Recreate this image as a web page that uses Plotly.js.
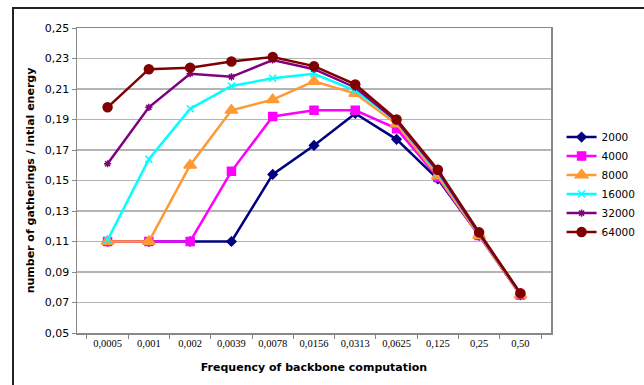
<!DOCTYPE html>
<html><head><meta charset="utf-8">
<script src="https://cdn.plot.ly/plotly-3.0.1.min.js"></script>
<style>
html,body{margin:0;padding:0;background:#fff;overflow:hidden;}
#frame{position:absolute;left:12px;top:7px;width:700px;height:420px;border:2px solid #222;box-sizing:border-box;}
#chart{position:absolute;left:0;top:0;width:644px;height:385px;}
</style></head>
<body>
<div id="frame"></div>
<div id="chart"></div>
<script>
var categories = ["0,0005","0,001","0,002","0,0039","0,0078","0,0156","0,0313","0,0625","0,125","0,25","0,50"];
var seriesNames = ["2000","4000","8000","16000","32000","64000"];
var s2000  = [0.110,0.110,0.110,0.110,0.154,0.173,0.194,0.177,0.151,0.114,0.075];
var s4000  = [0.110,0.110,0.110,0.156,0.192,0.196,0.196,0.184,0.152,0.114,0.075];
var s8000  = [0.110,0.110,0.160,0.196,0.203,0.215,0.207,0.187,0.153,0.114,0.075];
var s16000 = [0.111,0.164,0.197,0.212,0.217,0.220,0.209,0.189,0.155,0.115,0.076];
var s32000 = [0.161,0.198,0.220,0.218,0.229,0.223,0.211,0.189,0.156,0.115,0.076];
var s64000 = [0.198,0.223,0.224,0.228,0.231,0.225,0.213,0.190,0.157,0.116,0.076];

var values = [s2000,s4000,s8000,s16000,s32000,s64000];
var colors = ["#000080","#ff00ff","#ff9933","#00ffff","#800080","#800000"];
var symbols = ["diamond","square","triangle-up","x-thin-open","asterisk-open","circle"];
var sizes = [7,8,11,7,6,9];

var traces = values.map(function(v,i){
  return {
    x: categories, y: v, name: seriesNames[i], type: "scatter", mode: "lines+markers",
    line: {color: colors[i], width: 2.5},
    marker: {symbol: symbols[i], size: sizes[i], color: colors[i], line: {color: colors[i], width: 1.5}}
  };
});

var layout = {
  width: 644, height: 385,
  margin: {l: 77, r: 93, t: 28, b: 52, autoexpand: false},
  paper_bgcolor: "rgba(0,0,0,0)", plot_bgcolor: "#fff",
  separators: ",.",
  showlegend: true,
  legend: {xref: "container", x: 0.872, xanchor: "left", y: 0.69, yanchor: "top", font: {family: "DejaVu Sans", size: 10.5, color: "#000"}, bgcolor: "rgba(0,0,0,0)", tracegroupgap: 0, itemwidth: 30},
  xaxis: {
    type: "category", tickson: "boundaries", ticks: "outside", ticklen: 4, tickcolor: "#888",
    showline: true, linecolor: "#888", linewidth: 1.5, mirror: true, showgrid: false,
    tickfont: {family: "Liberation Serif", size: 10.5, color: "#000"},
    title: {text: "<b>Frequency of backbone computation</b>", font: {family: "DejaVu Sans", size: 11, color: "#000"}, standoff: 15},
    fixedrange: true
  },
  yaxis: {
    range: [0.05, 0.25], dtick: 0.02, tick0: 0.05, tickformat: ".2f",
    ticks: "outside", ticklen: 4, tickcolor: "#888",
    showline: true, linecolor: "#888", linewidth: 1.5, mirror: true,
    showgrid: true, gridcolor: "#b4b4b4", gridwidth: 1.2, zeroline: false,
    tickfont: {family: "DejaVu Sans", size: 11, color: "#000"},
    title: {text: "<b>number of gatherings / intial energy</b>", font: {family: "DejaVu Sans", size: 11, color: "#000"}, standoff: 8},
    fixedrange: true
  }
};
Plotly.newPlot("chart", traces, layout, {displayModeBar: false, staticPlot: true});
</script>
</body></html>
